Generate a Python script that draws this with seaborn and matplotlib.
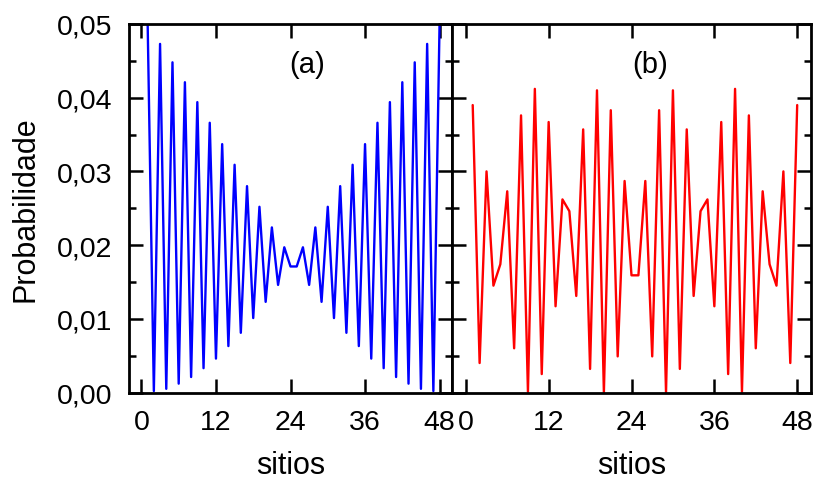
import matplotlib
matplotlib.use("Agg")
import matplotlib.pyplot as plt
import seaborn as sns
import pandas as pd
from matplotlib.ticker import FixedLocator, MultipleLocator

sns.set_style("ticks")
plt.rcParams['font.family'] = ['Liberation Sans', 'DejaVu Sans']
plt.rcParams['text.color'] = 'black'
plt.rcParams['axes.labelcolor'] = 'black'
plt.rcParams['xtick.color'] = 'black'
plt.rcParams['ytick.color'] = 'black'

sites = list(range(1, 49))
prob_a = [0.0502, 0.0002, 0.0473, 0.0005, 0.0448, 0.0012, 0.0421, 0.0021,
          0.0394, 0.0033, 0.0366, 0.0046, 0.0337, 0.0063, 0.0309, 0.0081,
          0.0280, 0.0101, 0.0252, 0.0123, 0.0224, 0.0146, 0.0197, 0.0171,
          0.0171, 0.0197, 0.0146, 0.0224, 0.0123, 0.0252, 0.0101, 0.0280,
          0.0081, 0.0309, 0.0063, 0.0337, 0.0046, 0.0366, 0.0033, 0.0394,
          0.0021, 0.0421, 0.0012, 0.0448, 0.0005, 0.0473, 0.0002, 0.0502]
prob_b = [0.0390, 0.0040, 0.0300, 0.0145, 0.0174, 0.0273, 0.0060, 0.0376,
          0.0001, 0.0412, 0.0025, 0.0367, 0.0117, 0.0262, 0.0246, 0.0131,
          0.0357, 0.0032, 0.0410, 0.0000, 0.0383, 0.0049, 0.0287, 0.0159,
          0.0159, 0.0287, 0.0049, 0.0383, 0.0000, 0.0410, 0.0032, 0.0357,
          0.0131, 0.0246, 0.0262, 0.0117, 0.0367, 0.0025, 0.0412, 0.0001,
          0.0376, 0.0060, 0.0273, 0.0174, 0.0145, 0.0300, 0.0040, 0.0390]
x_ticks = [0, 12, 24, 36, 48]
y_ticks = [0.00, 0.01, 0.02, 0.03, 0.04, 0.05]
y_ticklabels = ["0,00", "0,01", "0,02", "0,03", "0,04", "0,05"]
panel_labels = ["(a)", "(b)"]
x_label = "sitios"
y_label = "Probabilidade"

df_a = pd.DataFrame({"sitio": sites, "prob": prob_a})
df_b = pd.DataFrame({"sitio": sites, "prob": prob_b})

W, H = 817, 485
fig = plt.figure(figsize=(W / 100, H / 100), dpi=100)
bottom = 1 - 393.5 / H
height = (393.5 - 25) / H
ax1 = fig.add_axes([129 / W, bottom, 323 / W, height])
ax2 = fig.add_axes([452 / W, bottom, 359 / W, height])

fs_tick = 20.5
fs_lab = 22
for ax, df, color, lab in [(ax1, df_a, "#0000ff", panel_labels[0]),
                           (ax2, df_b, "#ff0000", panel_labels[1])]:
    sns.lineplot(data=df, x="sitio", y="prob", ax=ax, color=color,
                 linewidth=1.7, legend=False)
    ax.set_xlim(-2, 50)
    ax.set_ylim(0, 0.05)
    ax.xaxis.set_major_locator(FixedLocator(x_ticks))
    ax.yaxis.set_major_locator(FixedLocator(y_ticks))
    ax.yaxis.set_minor_locator(MultipleLocator(0.005))
    ax.set_xticklabels([str(t) for t in x_ticks], fontsize=fs_tick)
    ax.tick_params(which="both", direction="in", top=True, right=True,
                   width=1.8, color="black")
    ax.tick_params(which="major", length=10, pad=12)
    ax.tick_params(which="minor", length=5)
    ax.tick_params(axis="x", which="minor", length=0)
    for s in ax.spines.values():
        s.set_linewidth(2.0)
        s.set_color("black")
    ax.set_xlabel(x_label, fontsize=fs_lab, labelpad=11)
    ax.set_ylabel("")
    ax.text(26.7, 0.0446, lab, fontsize=21, ha="center", va="center")

ax1.set_yticklabels(y_ticklabels, fontsize=fs_tick)
ax1.set_ylabel(y_label, fontsize=fs_lab, labelpad=12)
ax2.set_yticklabels([])

fig.savefig("out.png", dpi=100)
